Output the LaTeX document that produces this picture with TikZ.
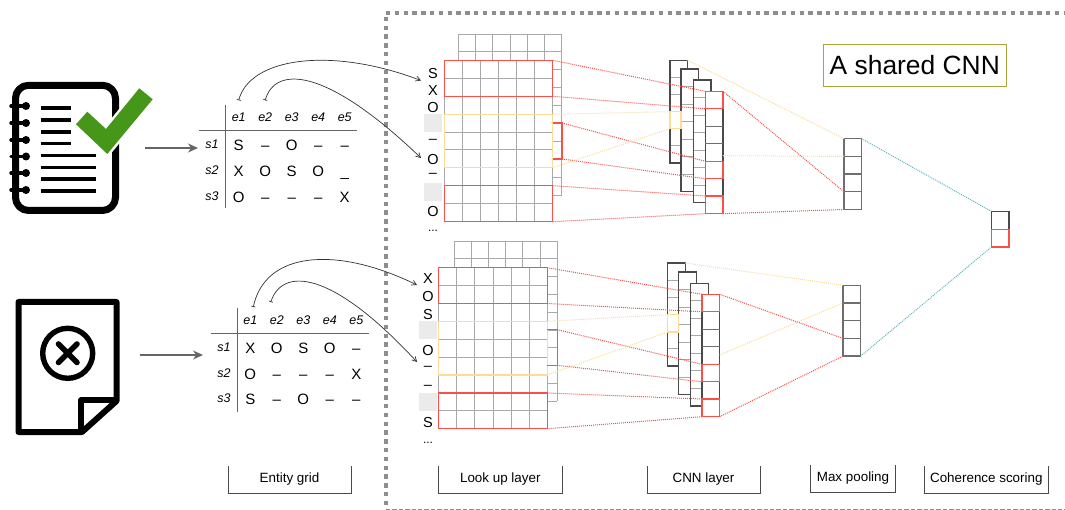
\documentclass[tikz,border=0pt]{standalone}
\usepackage{fontspec}
\setmainfont{Liberation Sans}
\usetikzlibrary{arrows.meta, positioning}
\definecolor{cnnred}{HTML}{F9504A}
\definecolor{cnnyellow}{HTML}{FBDD98}
\definecolor{cnnteal}{HTML}{5DB5B8}
\definecolor{cnngray}{HTML}{A9A9A9}
\definecolor{cnndark}{HTML}{4A4A4A}
\definecolor{cnnframe}{HTML}{8E8E90}
\definecolor{cnnolive}{HTML}{A9A63C}
\definecolor{cnngreen}{HTML}{459619}
\definecolor{cnnpad}{HTML}{EBEBEB}

% grid lines of a block: x, y, cell w, cell h, cols, rows
\newcommand{\blockgrid}[6]{
  \foreach \k in {0,...,#5} \draw[gridline] ({#1+#3*\k},#2) -- ({#1+#3*\k},{#2+#4*#6});
  \foreach \k in {0,...,#6} \draw[gridline] (#1,{#2+#4*\k}) -- ({#1+#3*#5},{#2+#4*\k});
}

\begin{document}
\begin{tikzpicture}[
  x=1pt, y=-1pt,
  every node/.style={inner sep=0pt, outer sep=0pt},
  gridline/.style={cnngray, line width=0.9pt},
  hlbox/.style={draw, anchor=north west, line width=1.3pt},
  redbox/.style={hlbox, draw=cnnred},
  yellowbox/.style={hlbox, draw=cnnyellow},
  darkbox/.style={hlbox, draw=cnndark},
  cnncol/.style={darkbox, fill=white, minimum width=17.6pt},
  padbox/.style={fill=cnnpad, anchor=north west, minimum width=18pt, minimum height=18pt},
  reddot/.style={cnnred, line width=1pt, dash pattern=on 1pt off 1pt},
  yellowdot/.style={cnnyellow, line width=1pt, dash pattern=on 1pt off 1pt},
  tealdot/.style={cnnteal, line width=1pt, dash pattern=on 1pt off 1pt},
  framedot/.style={cnnframe, line width=4.4pt, dash pattern=on 4.4pt off 4.4pt},
  gridarrow/.style={-{Stealth[length=10pt,width=9pt]}, cnndark!85, line width=1.3pt},
  linkarrow/.style={{Bar[width=4pt,length=0.8pt]}-{Straight Barb[length=4.5pt,width=5pt]}, black!80, line width=0.7pt},
  icon/.style={line width=6pt, line join=round},
  textline/.style={line width=3.3pt},
  wordcell/.style={font=\fontsize{15}{15}\selectfont, text height=10.8pt, text depth=0pt},
  headcell/.style={font=\fontsize{12.5}{12.5}\itshape\selectfont, minimum height=34pt},
  rowcell/.style={font=\fontsize{12.5}{12.5}\itshape\selectfont},
  seqword/.style={font=\fontsize{14.5}{14.5}\selectfont},
  layername/.style={font=\fontsize{13.4}{13.4}\selectfont, minimum height=27pt},
]
\useasboundingbox (0,0) rectangle (1065,510);

% Shared CNN frame
\draw[framedot] (386,16.8) -- (386,510);
\draw[framedot] (386,13) -- (1066,13);
\draw[cnnframe, line width=1pt, dash pattern=on 4.4pt off 2pt] (386,509.5) -- (1065,509.5);
\node[draw=cnnolive, line width=1.1pt, minimum width=183pt, minimum height=42.4pt, font=\fontsize{26.4}{26.4}\selectfont] (shared) at (914.8,65.5) {A shared CNN};

% Notebook icon
\draw[icon, line width=7pt, rounded corners=13pt] (15.5,85.3) rectangle (115.5,210.5);
\foreach \y in {106,123,140,156.5,173,190} {
  \draw[line width=3.4pt, line cap=round] (11,\y) -- (24,\y);
  \fill (26,\y) circle (4pt);
}
\foreach \y in {108,120,132,143.7} \draw[textline] (40.7,\y) -- (71,\y);
\foreach \y in {155.7,167.3,179,191} \draw[textline] (40.7,\y) -- (95.7,\y);
\draw[white, line width=5pt, line join=miter, fill=cnngreen] (76,124.3) -- (87.3,111.7) -- (106,129) -- (139.3,88.3) -- (152.7,99.3) -- (107.3,154) -- cycle;
\fill[cnngreen] (76,124.3) -- (87.3,111.7) -- (106,129) -- (139.3,88.3) -- (152.7,99.3) -- (107.3,154) -- cycle;

% Document icon
\draw[icon] (18.5,302) -- (116.5,302) -- (116.5,401) -- (82,432) -- (18.5,432) -- cycle;
\draw[icon, line width=5.5pt] (81,432) -- (81,400) -- (116.5,400);
\draw[line width=5.4pt] (67.7,353.3) circle (25pt);
\draw[line width=5.6pt, line cap=round] (58.5,344) -- (77,362.5) (77,344) -- (58.5,362.5);

% Entity grids
\foreach \name/\ex/\ey/\rx/\vx/\hy/\hl/\hr/\vt/\vb/\cells in {
  t/238.7/145.3/212/225/130.3/199/357/105/208/{{S,--,O,--,--},{X,O,S,O,\_},{O,--,--,--,X}},
  b/250.3/348/224/237.3/333.3/210.7/369.3/307.7/411.7/{{X,O,S,O,--},{O,--,--,--,X},{S,--,O,--,--}}} {
  \draw[cnndark!85, line width=0.8pt] (\hl,\hy) -- (\hr,\hy);
  \draw[cnndark!85, line width=0.8pt] (\vx,\vt) -- (\vx,\vb);
  \foreach \cn in {1,...,5}
    \node[headcell] (\name e\cn) at ({\ex+26.5*(\cn-1)},{\ey-28}) {e\cn};
  \foreach \rn in {1,...,3}
    \node[rowcell] (\name s\rn) at (\rx,{\ey-1+25.7*(\rn-1)}) {s\rn};
  \foreach \rowvals [count=\rn] in \cells
    \foreach \txt [count=\cn] in \rowvals
      \node[wordcell] (\name c\rn\cn) at ({\ex+26.5*(\cn-1)},{\ey+25.7*(\rn-1)}) {\txt};
}

% Arrows into the grids
\coordinate (tnotein) at (145,148);
\coordinate (bnotein) at (140,355);
\draw[gridarrow] (tnotein) -- (198,148);
\draw[gridarrow] (bnotein) -- (203,355);

% Top look up layer
\blockgrid{458.3}{34}{17.23}{17.9}{6}{9}
\fill[white] (444.3,60.3) rectangle (552.7,221.7);
\blockgrid{444.3}{60.3}{18.07}{17.93}{6}{9}
\node[redbox, minimum width=108.4pt, minimum height=36pt] (tred1) at (444.3,60.3) {};
\node[yellowbox, minimum width=108.4pt, minimum height=53.4pt] (tyel1) at (444.3,114.3) {};
\node[redbox, minimum width=108.4pt, minimum height=36pt] (tred2) at (444.3,185.7) {};
\draw[cnnred, line width=1.3pt] (552.7,123) coordinate (tback1) -- (562,123) -- (562,159) coordinate (tback2) -- (552.7,159);
\node[padbox] (tpad1) at (424.3,114) {};
\node[padbox] (tpad2) at (424.3,183) {};
\node[seqword] (ts1) at (433,74) {S};
\node[seqword] (ts2) at (433,91) {X};
\node[seqword] (ts3) at (433,108) {O};
\node[seqword] (ts5) at (433,141.7) {--};
\node[seqword] (ts6) at (433,160) {O};
\node[seqword] (ts7) at (433,175.7) {--};
\node[seqword] (ts9) at (433,212) {O};
\node[seqword, font=\fontsize{12}{12}\selectfont] (tdots) at (433,230.5) {...};

% Bottom look up layer
\blockgrid{454}{241}{17.22}{17.8}{6}{9}
\fill[white] (438.7,267.7) rectangle (547.3,428.7);
\blockgrid{438.7}{267.7}{18.1}{17.89}{6}{9}
\node[redbox, minimum width=108.6pt, minimum height=35.8pt] (bred1) at (438.7,267.7) {};
\node[yellowbox, minimum width=108.6pt, minimum height=53.7pt] (byel1) at (438.7,321.3) {};
\node[redbox, minimum width=108.6pt, minimum height=35.7pt] (bred2) at (438.7,393) {};
\draw[cnnred, line width=1.3pt] (547.3,329.7) coordinate (bback1) -- (557.3,329.7) -- (557.3,365.3) coordinate (bback2) -- (547.3,365.3);
\node[padbox] (bpad1) at (419,321) {};
\node[padbox] (bpad2) at (419,392.7) {};
\node[seqword] (bs1) at (428,279) {X};
\node[seqword] (bs2) at (428,296.7) {O};
\node[seqword] (bs3) at (428,314.3) {S};
\node[seqword] (bs5) at (428,351) {O};
\node[seqword] (bs6) at (428,368.7) {--};
\node[seqword] (bs7) at (428,387.4) {--};
\node[seqword] (bs9) at (428,422.7) {S};
\node[seqword, font=\fontsize{12}{12}\selectfont] (bdots) at (428,442.5) {...};

% Links from the entity columns to the sequences
\coordinate (tin1) at (421,80.5);
\coordinate (tin2) at (421,158);
\coordinate (bin1) at (417,285);
\coordinate (bin2) at (417,362);
\draw[linkarrow] (te1.north) .. controls (250,58) and (330,46) .. (tin1);
\draw[linkarrow] (te2.north) .. controls (275,66) and (325,66) .. (tin2);
\draw[linkarrow] ([shift={(3,4)}]be1.north) .. controls (265,252) and (335,245) .. (bin1);
\draw[linkarrow] ([shift={(-6,-1)}]be2.north) .. controls (282,268) and (330,268) .. (bin2);

% Top CNN layer
\foreach \name/\x/\y/\h/\n in {tcol1/670/60.3/102.7/6, tcol2/681/69/122.7/7, tcol3/693.3/80/122.7/7} {
  \node[cnncol, minimum height=\h pt] (\name) at (\x,\y) {};
  \foreach \k in {1,...,\n} \draw[gridline] (\x,{\y+\h/\n*\k}) -- ({\x+17.6},{\y+\h/\n*\k});
  \node[darkbox, minimum width=17.6pt, minimum height=\h pt] at (\x,\y) {};
}
\node[cnncol, minimum height=122.4pt] (tcol4) at (705.3,91.3) {};
\foreach \k in {1,...,6} \draw[cnndark!80, line width=0.9pt] (705.3,{91.3+17.49*\k}) -- (722.9,{91.3+17.49*\k});
\node[redbox, minimum width=17.6pt, minimum height=17.5pt] (tcr1) at (705.3,91.3) {};
\node[redbox, minimum width=17.6pt, minimum height=17.5pt] (tcr2) at (705.3,161.3) {};
\node[redbox, minimum width=17.6pt, minimum height=17.7pt] (tcr3) at (705.3,196) {};
\node[yellowbox, minimum width=11pt, minimum height=17pt] (tcy1) at (670,111.7) {};

% Bottom CNN layer
\foreach \name/\x/\y/\h/\n in {bcol1/667.7/263/103/6, bcol2/678.7/272/122.7/7, bcol3/690.7/283.3/122.7/7} {
  \node[cnncol, minimum height=\h pt] (\name) at (\x,\y) {};
  \foreach \k in {1,...,\n} \draw[gridline] (\x,{\y+\h/\n*\k}) -- ({\x+17.6},{\y+\h/\n*\k});
  \node[darkbox, minimum width=17.6pt, minimum height=\h pt] at (\x,\y) {};
}
\node[cnncol, minimum height=122.4pt] (bcol4) at (702,294.3) {};
\foreach \k in {1,...,6} \draw[cnndark!80, line width=0.9pt] (702,{294.3+17.49*\k}) -- (719.6,{294.3+17.49*\k});
\node[redbox, minimum width=17.6pt, minimum height=17.5pt] (bcr1) at (702,294.3) {};
\node[redbox, minimum width=17.6pt, minimum height=17.5pt] (bcr2) at (702,364.3) {};
\node[redbox, minimum width=17.6pt, minimum height=17.7pt] (bcr3) at (702,399) {};
\node[yellowbox, minimum width=11pt, minimum height=17.3pt] (bcy1) at (667.7,314.7) {};

% Max pooling
\foreach \name/\x/\y in {tpool/844/138.7, bpool/843/285.3} {
  \foreach \k in {1,...,4}
    \node[hlbox, draw=cnndark!80, minimum width=17.6pt, minimum height=17.7pt] (\name\k) at (\x,{\y+17.7*(\k-1)}) {};
}

% Coherence scoring
\node[darkbox, minimum width=17.7pt, minimum height=18.3pt] (score1) at (991.3,211.3) {};
\node[redbox, minimum width=17.7pt, minimum height=17.4pt] (score2) at (991.3,229.7) {};

% Top dotted links
\draw[reddot] (tred1.north east) -- (tcr1.north west);
\draw[reddot] (tred1.south east) -- (tcr1.south west);
\draw[reddot] (tback1-|tred1.east) ++(9.3,0) -- (tcr2.north west);
\draw[reddot] (tback2-|tred1.east) ++(9.3,0) -- (tcr2.south west);
\draw[reddot] (tred2.north east) -- (tcr3.north west);
\draw[reddot] (tred2.south east) -- (tcr3.south west);
\draw[yellowdot] (tyel1.north east) -- (tcy1.north west);
\draw[yellowdot] (tyel1.south east) -- (tcy1.south west);
\draw[yellowdot] (tcol1.north east) -- (tpool1.north west);
\draw[yellowdot] (722.9,155.7) coordinate (tcolout) -- (tpool2.north west);
\draw[reddot] (tcr1.north east) -- (tpool4.north west);
\draw[reddot] (tcr3.south east) -- (tpool4.south west);
\draw[tealdot] (tpool1.north east) -- (score1.north west);

% Bottom dotted links
\draw[reddot] (bred1.north east) -- (bcr1.north west);
\draw[reddot] (bred1.south east) -- (bcr1.south west);
\draw[reddot] (bback1-|bred1.east) ++(10,0) -- (bcr2.north west);
\draw[reddot] (bback2-|bred1.east) ++(10,0) -- (bcr2.south west);
\draw[reddot] (bred2.north east) -- (bcr3.north west);
\draw[reddot] (bred2.south east) -- (bcr3.south west);
\draw[yellowdot] (byel1.north east) -- (bcy1.north west);
\draw[yellowdot] (byel1.south east) -- (bcy1.south west);
\draw[yellowdot] (bcol1.north east) -- (bpool1.north west);
\draw[yellowdot] (719.6,355) coordinate (bcolout) -- (bpool2.north west);
\draw[reddot] (bcr1.north east) -- (bpool4.north west);
\draw[reddot] (bcr3.south east) -- (bpool4.south west);
\draw[tealdot] (bpool4.south east) -- (score2.south west);

% Layer names
\node[layername, minimum width=123pt] (lgrid) at (289.5,479.5) {Entity grid};
\node[layername, minimum width=123.4pt] (llook) at (500.3,479.5) {Look up layer};
\node[layername, minimum width=113pt] (lcnn) at (703.5,479.5) {CNN layer};
\node[layername, minimum width=85pt] (lmax) at (853,478.5) {Max pooling};
\node[layername, minimum width=124.6pt] (lcoh) at (986.3,479.5) {Coherence scoring};
\foreach \n in {lgrid,llook,lcnn,lmax,lcoh}
  \draw[cnndark, line width=1pt] (\n.north west) -- (\n.south west) -- (\n.south east) -- (\n.north east);

\end{tikzpicture}
\end{document}
